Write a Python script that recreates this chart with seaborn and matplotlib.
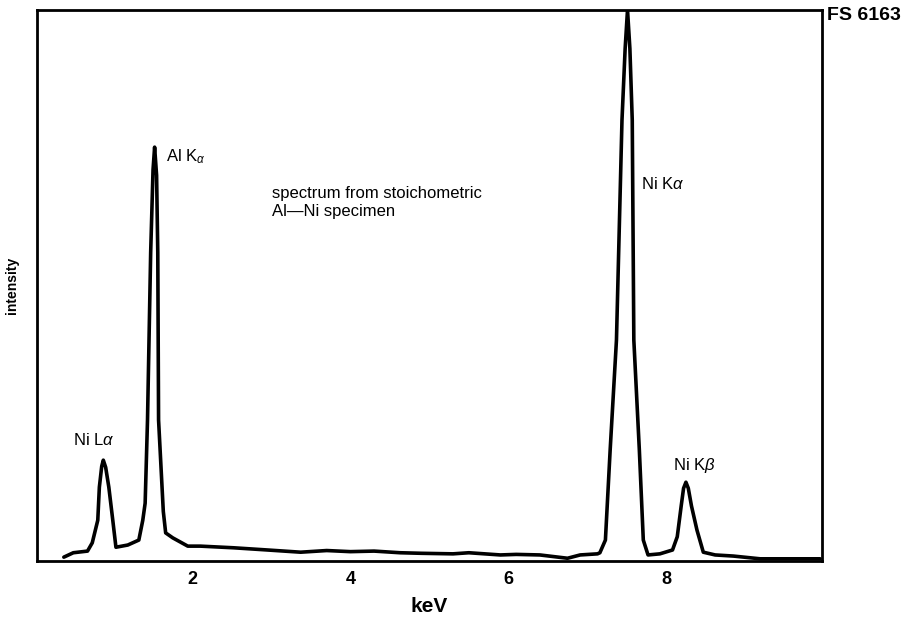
import numpy as np
import pandas as pd
import seaborn as sns
import matplotlib.pyplot as plt

energia = [0.37, 0.49, 0.67, 0.73, 0.80, 0.82, 0.85, 0.87, 0.90, 0.94,
           0.99, 1.03, 1.18, 1.32, 1.37, 1.40, 1.43, 1.47, 1.50, 1.52,
           1.545, 1.56, 1.57, 1.63, 1.66, 1.75, 1.94, 2.10, 2.52, 2.95,
           3.37, 3.70, 4.00, 4.30, 4.63, 4.90, 5.30, 5.50, 5.90, 6.10,
           6.40, 6.75, 6.91, 7.13, 7.16, 7.23, 7.29, 7.37, 7.44, 7.48,
           7.51, 7.54, 7.57, 7.59, 7.66, 7.71, 7.77, 7.92, 8.08, 8.14,
           8.19, 8.22, 8.25, 8.28, 8.32, 8.39, 8.47, 8.62, 8.85, 9.19,
           9.70, 9.95]
intensidade = [0.7, 1.5, 1.8, 3.3, 7.4, 13.4, 17.2, 18.3, 17.0, 13.4,
               7.4, 2.5, 2.9, 3.8, 7.4, 10.5, 25.6, 56.0, 71.0, 75.1,
               70.0, 56.0, 25.6, 9.0, 5.1, 4.2, 2.7, 2.7, 2.4, 2.0,
               1.6, 1.9, 1.7, 1.8, 1.5, 1.4, 1.3, 1.5, 1.1, 1.2,
               1.1, 0.5, 1.1, 1.3, 1.5, 3.8, 20.1, 40.1, 80.0, 93.0,
               100.0, 93.0, 80.0, 40.1, 20.1, 3.8, 1.1, 1.3, 2.0, 4.4,
               10.0, 13.2, 14.3, 13.2, 10.0, 5.6, 1.6, 1.1, 0.9, 0.4,
               0.4, 0.4]

# rótulos dos picos: texto, posição (keV, intensidade)
picos = ["Ni L$\\alpha$", "Al K$_\\alpha$", "Ni K$\\alpha$", "Ni K$\\beta$"]
picos_x = [0.49, 1.67, 7.68, 8.08]
picos_y = [22.0, 73.4, 68.4, 17.4]

ticks_kev = [2, 4, 6, 8]

df = pd.DataFrame({"keV": energia, "intensity": intensidade})

sns.set_style("white")
plt.rcParams['font.family'] = ['Liberation Sans', 'DejaVu Sans']
plt.rcParams['text.color'] = 'black'
plt.rcParams['axes.labelcolor'] = 'black'
plt.rcParams['xtick.color'] = 'black'
plt.rcParams['mathtext.fontset'] = 'custom'
plt.rcParams['mathtext.rm'] = 'Liberation Sans'
plt.rcParams['mathtext.it'] = 'Liberation Sans:italic'

fig = plt.figure(figsize=(9.11, 6.21), dpi=100)
ax = fig.add_axes([0.0406, 0.0966, 0.8614, 0.8874])

sns.lineplot(data=df, x="keV", y="intensity", ax=ax, color="black",
             linewidth=2.6, sort=False)

ax.set_xlim(0.03, 9.97)
ax.set_ylim(0, 100)
ax.set_xticks(ticks_kev)
ax.set_xticklabels([str(t) for t in ticks_kev], fontsize=13, fontweight='bold')
ax.set_yticks([])
ax.tick_params(axis='x', direction='inout', length=9, width=2, pad=3)

for s in ax.spines.values():
    s.set_linewidth(2)
    s.set_color("black")

ax.set_xlabel("keV", fontsize=15, fontweight='bold', labelpad=6)
ax.set_ylabel("intensity", fontsize=10, fontweight='semibold', labelpad=13)

for txt, x, y in zip(picos, picos_x, picos_y):
    ax.text(x, y, txt, fontsize=12, va='center', ha='left')

ax.text(3.01, 65.0, "spectrum from stoichometric\nAl\u2014Ni specimen",
        fontsize=12, va='center', ha='left', linespacing=1.25)

fig.text(0.908, 0.975, "FS 6163", fontsize=14, fontweight='bold',
         va='center', ha='left')

fig.savefig("out.png", dpi=100)
